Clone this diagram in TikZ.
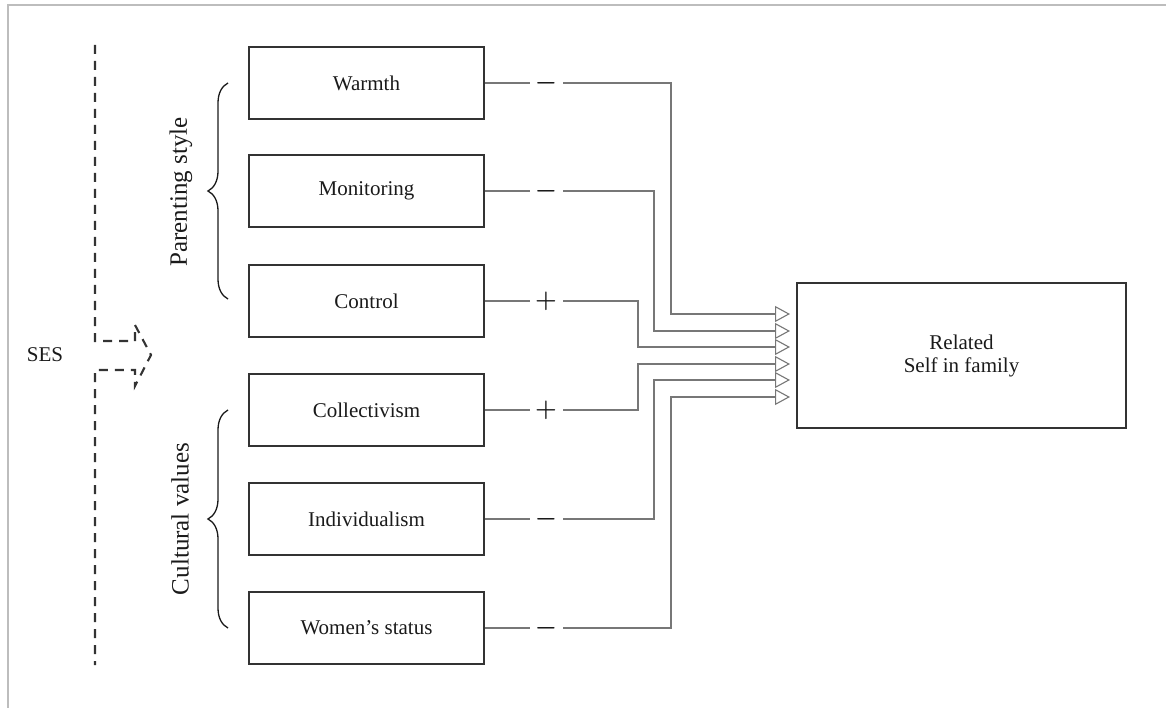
\documentclass[tikz,border=0pt]{standalone}
\usepackage{fontspec}
\setmainfont{Liberation Serif}
\usetikzlibrary{arrows.meta,decorations.pathreplacing,calc}
\definecolor{boxc}{HTML}{333333}
\definecolor{connc}{HTML}{777777}
\definecolor{framec}{HTML}{BDBDBD}
\definecolor{txtc}{HTML}{1A1A1A}
\tikzset{
  varbox/.style={draw=boxc, line width=1.9pt, minimum width=235pt, minimum height=72pt, inner sep=0pt, font=\fontsize{21}{25}\selectfont, text=txtc},
  conn/.style={draw=connc, line width=1.2pt},
  inarrow/.style={conn, -{Triangle[open, length=15pt, width=16pt, line width=1.1pt]}},
  signnode/.style={fill=white, minimum width=33pt, minimum height=20pt, inner sep=0pt, font=\fontsize{26}{28}\selectfont\boldmath, text=txtc},
  sesline/.style={draw=boxc, line width=2.1pt, dash pattern=on 9pt off 7pt},
  bracec/.style={draw=txtc, line width=1.3pt, decorate, decoration={brace, amplitude=20pt}},
  grouplabel/.style={rotate=90, font=\fontsize{25}{30}\selectfont, text=txtc},
}
\begin{document}
\begin{tikzpicture}[x=1pt, y=-1pt]
\useasboundingbox (0,0) rectangle (1166,708);
% frame
\draw[framec, line width=1.6pt] (8,708) -- (8,5) -- (1166,5);

% boxes
\node[varbox] (warmth) at (366.5,83) {Warmth};
\node[varbox] (monit) at (366.5,191) {Monitoring};
\node[varbox] (control) at (366.5,301) {Control};
\node[varbox] (collect) at (366.5,410) {Collectivism};
\node[varbox] (indiv) at (366.5,519) {Individualism};
\node[varbox] (women) at (366.5,628) {Women’s status};

\node[draw=boxc, line width=1.9pt, minimum width=329pt, minimum height=145pt, inner sep=0pt,
      align=center, font=\fontsize{21}{23}\selectfont, text=txtc] (rel) at (961.5,355.5) {Related\\Self in family};

% arrow targets and bends
\coordinate (t1) at (790,314); \coordinate (k1) at (671,314);
\coordinate (t2) at (790,331); \coordinate (k2) at (654,331);
\coordinate (t3) at (790,347); \coordinate (k3) at (638,347);
\coordinate (t4) at (790,364); \coordinate (k4) at (638,364);
\coordinate (t5) at (790,380); \coordinate (k5) at (654,380);
\coordinate (t6) at (790,397); \coordinate (k6) at (671,397);

\draw[inarrow] (warmth.east) -| (k1) -- (t1);
\draw[inarrow] (monit.east) -| (k2) -- (t2);
\draw[inarrow] (control.east) -| (k3) -- (t3);
\draw[inarrow] (collect.east) -| (k4) -- (t4);
\draw[inarrow] (indiv.east) -| (k5) -- (t5);
\draw[inarrow] (women.east) -| (k6) -- (t6);

% signs
\node[signnode] (s1) at (546,83) {$-$};
\node[signnode] (s2) at (546,191) {$-$};
\node[signnode] (s3) at (546,301) {$+$};
\node[signnode] (s4) at (546,410) {$+$};
\node[signnode] (s5) at (546,519) {$-$};
\node[signnode] (s6) at (546,628) {$-$};

% braces
\draw[bracec] (228,299) -- (228,83);
\draw[bracec] (228,628) -- (228,410);
\node[grouplabel] (ps) at (181,192) {Parenting style};
\node[grouplabel] (cv) at (180,519) {Cultural values};

% SES
\node[font=\fontsize{21}{24}\selectfont, text=txtc] (ses) at (45,355) {SES};
\draw[sesline] (95,45) -- (95,341) -- (135,341) -- (135,325) -- (151,355) -- (135,386) -- (135,370) -- (95,370) -- (95,665);
\end{tikzpicture}
\end{document}
